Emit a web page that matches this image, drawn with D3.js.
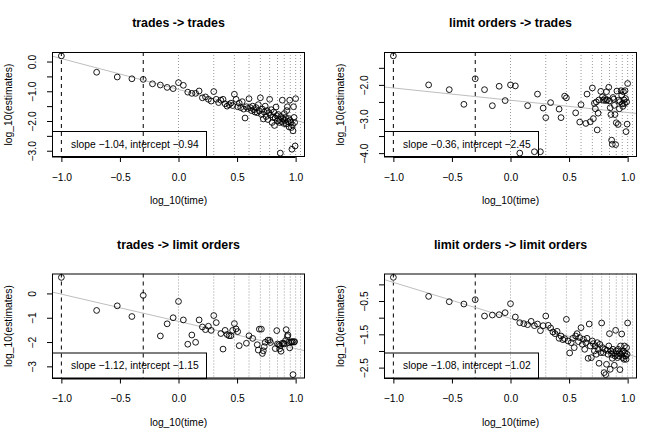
<!DOCTYPE html>
<html><head><meta charset="utf-8">
<script src="https://cdn.jsdelivr.net/npm/d3@7"></script>
<style>
body{margin:0;background:#fff}
svg{display:block}
text{font-family:"Liberation Sans",Arial,Helvetica,sans-serif;fill:#000}
</style>
</head><body>
<svg id="chart" width="664" height="443"></svg>
<script>
// ---- data ----
const times = [0.1,0.2,0.3,0.4,0.5,0.6,0.7,0.8,0.9,1.0,
  1.1,1.2,1.3,1.4,1.5,1.6,1.7,1.8,1.9,2.0,
  2.1,2.2,2.3,2.4,2.5,2.6,2.7,2.8,2.9,3.0,
  3.1,3.2,3.3,3.4,3.5,3.6,3.7,3.8,3.9,4.0,
  4.1,4.2,4.3,4.4,4.5,4.6,4.7,4.8,4.9,5.0,
  5.1,5.2,5.3,5.4,5.5,5.6,5.7,5.8,5.9,6.0,
  6.1,6.2,6.3,6.4,6.5,6.6,6.7,6.8,6.9,7.0,
  7.1,7.2,7.3,7.4,7.5,7.6,7.7,7.8,7.9,8.0,
  8.1,8.2,8.3,8.4,8.5,8.6,8.7,8.8,8.9,9.0,
  9.1,9.2,9.3,9.4,9.5,9.6,9.7,9.8,9.9,10.0];

const titles = ["trades -> trades","limit orders -> trades","trades -> limit orders","limit orders -> limit orders"];

const tradesToTrades = [0.19,-0.36,-0.52,-0.58,-0.60,-0.75,-0.79,-0.87,-0.91,-0.71,
  -0.80,-1.03,-1.07,-1.07,-0.99,-1.22,-1.19,-1.27,-1.33,-1.01,
  -1.27,-1.38,-1.30,-1.27,-1.42,-1.50,-1.45,-1.40,-1.48,-1.10,
  -1.27,-1.52,-1.40,-1.55,-1.35,-1.60,-1.90,-1.52,-1.58,-1.25,
  -1.55,-1.65,-1.50,-1.62,-1.70,-1.55,-1.72,-1.45,-1.66,-1.22,
  -1.78,-1.60,-1.93,-1.70,-1.50,-1.85,-1.65,-1.95,-1.72,-1.27,
  -1.80,-1.62,-2.05,-1.88,-1.70,-2.15,-1.90,-1.53,-1.82,-2.00,
  -1.78,-1.95,-2.05,-3.08,-1.85,-2.02,-1.30,-1.92,-2.08,-1.75,
  -1.98,-1.88,-2.10,-1.65,-1.52,-2.02,-1.92,-2.20,-1.30,-1.98,
  -2.05,-2.22,-2.95,-2.13,-2.33,-1.52,-1.88,-2.05,-2.84,-1.25];

const limitToTrades = [-1.15,-2.00,-2.14,-2.57,-1.82,-2.14,-2.61,-2.04,-2.46,-2.00,
  -2.03,-4.00,null,-2.61,null,-3.96,-2.27,-3.96,-2.68,-2.96,
  null,-2.52,null,null,null,-2.71,-2.96,null,-2.33,-2.38,
  null,null,null,null,null,-2.82,null,null,-3.09,-2.58,
  null,null,null,-3.13,-2.27,null,null,-3.08,null,-2.09,
  -2.99,-2.54,-2.70,-2.50,-3.32,-2.83,-2.44,null,-2.19,null,
  -2.35,-2.45,null,-2.40,-2.46,-2.20,-2.44,null,-2.07,-2.47,
  -2.67,-2.87,-3.62,-3.74,-2.37,-2.42,-2.60,-2.87,-3.75,-3.11,
  -2.18,null,-3.16,-2.45,-2.70,-2.49,null,-2.17,-2.30,-2.55,
  -2.63,-2.20,-2.44,-2.55,-2.17,-2.40,-3.37,-2.50,-3.15,-1.96];

const tradesToLimit = [0.66,-0.70,-0.51,-0.95,-0.08,null,-1.75,-1.25,-1.00,-0.33,
  -1.09,-2.09,-1.71,-2.01,-1.09,-1.38,-1.49,-1.35,-1.52,-0.91,
  -1.20,null,-1.65,-2.29,-1.52,-1.69,-1.74,-1.74,-1.52,-1.24,
  -1.46,-1.57,-2.15,null,null,null,null,-2.05,null,-1.74,
  null,null,-1.85,null,null,null,-2.11,-2.33,-1.47,null,
  -1.47,-2.47,-2.36,-2.19,-2.01,null,null,-1.92,null,-1.93,
  -2.02,null,null,null,null,null,-2.27,null,-1.53,-2.08,
  null,-2.11,-2.28,-2.15,-2.38,null,-2.05,null,-2.05,-2.08,
  null,-1.94,-1.49,null,-1.77,-1.71,-2.02,null,-2.24,null,
  -2.00,null,-1.98,-2.00,-3.34,null,-2.00,-1.98,null,null];

const limitToLimit = [0.21,-0.36,-0.52,-0.59,-0.46,-0.95,-0.92,-0.91,-0.85,-0.58,
  -0.98,-1.15,-1.18,-1.21,-1.11,-1.24,-1.19,-1.39,-1.24,-0.95,
  -1.23,-1.31,-1.43,-1.48,-1.41,-1.62,-1.55,-1.66,-1.63,-1.05,
  -1.70,-2.06,-1.75,-1.62,-1.90,-1.55,-1.48,-1.72,-1.60,-1.30,
  -1.80,-1.65,-1.95,-1.75,-1.62,-2.22,-1.19,-1.85,-2.20,-1.70,
  -1.78,-2.00,-1.85,-2.10,-1.75,-1.95,-2.37,-1.80,-2.05,-1.16,
  -1.90,-2.05,-2.65,-1.95,-2.71,-2.40,-1.98,-2.10,-1.85,-1.48,
  -2.55,-2.00,-2.10,-2.22,-1.95,-2.05,-2.43,-2.15,-1.38,-2.00,
  -2.10,-2.20,-1.95,-2.15,-2.05,-2.56,-1.85,-2.10,-1.49,-2.05,
  -2.20,-2.00,-2.25,-1.85,-2.05,-2.15,-2.25,-1.90,-2.10,-1.16];

const slopes = [-1.04,-0.36,-1.12,-1.08];
const intercepts = [-0.94,-2.45,-1.15,-1.02];

const xTicks = [-1.0,-0.5,0.0,0.5,1.0];
const yTicksP1 = [0.0,-0.5,-1.0,-1.5,-2.0,-2.5,-3.0];
const yLabelsP1 = [0.0,-1.0,-2.0,-3.0];
const yTicksP2 = [-1.5,-2.0,-2.5,-3.0,-3.5,-4.0];
const yLabelsP2 = [-2.0,-3.0,-4.0];
const yTicksP3 = [0,-1,-2,-3];
const yLabelsP3 = [0,-1,-2,-3];
const yTicksP4 = [0.0,-0.5,-1.0,-1.5,-2.0,-2.5];
const yLabelsP4 = [-0.5,-1.5,-2.5];

const dashedTimes = [0.1,0.5];
const dottedTimes = [1,2,3,4,5,6,7,8,9,10,11,12];

const xLabel = "log_10(time)";
const yLabel = "log_10(estimates)";

// ---- drawing ----
const panels = [
  {title:titles[0], values:tradesToTrades, yt:yTicksP1, yl:yLabelsP1, fmt:d3.format(".1f")},
  {title:titles[1], values:limitToTrades, yt:yTicksP2, yl:yLabelsP2, fmt:d3.format(".1f")},
  {title:titles[2], values:tradesToLimit, yt:yTicksP3, yl:yLabelsP3, fmt:d3.format("d")},
  {title:titles[3], values:limitToLimit, yt:yTicksP4, yl:yLabelsP4, fmt:d3.format(".1f")}
];

const svg = d3.select("#chart");
const W = 664, H = 443, figW = W/2, figH = H/2;
const mar = {l:52, r:27, t:52, b:64.5};
const fs = 10.3;

panels.forEach((p,i)=>{
  const ox = (i%2)*figW, oy = Math.floor(i/2)*figH;
  const x0 = ox+mar.l, x1 = ox+figW-mar.r, y0 = oy+mar.t, y1 = oy+figH-mar.b;
  const pts = times.map((t,j)=>({x:Math.log10(t), y:p.values[j]})).filter(d=>d.y!==null);
  const xe = d3.extent(times.map(t=>Math.log10(t)));
  const ye = d3.extent(pts, d=>d.y);
  const xp = (xe[1]-xe[0])*0.04, yp = (ye[1]-ye[0])*0.04;
  const x = d3.scaleLinear([xe[0]-xp, xe[1]+xp], [x0, x1]);
  const y = d3.scaleLinear([ye[0]-yp, ye[1]+yp], [y1, y0]);

  const g = svg.append("g");
  const cid = "clip"+i;
  g.append("clipPath").attr("id",cid).append("rect")
    .attr("x",x0).attr("y",y0).attr("width",x1-x0).attr("height",y1-y0);
  const plot = g.append("g").attr("clip-path",`url(#${cid})`);

  // dotted guides
  plot.selectAll("line.dot").data(dottedTimes).join("line")
    .attr("x1",d=>x(Math.log10(d))).attr("x2",d=>x(Math.log10(d)))
    .attr("y1",y0).attr("y2",y1)
    .attr("stroke","#9a9a9a").attr("stroke-width",1).attr("stroke-dasharray","1,2");
  // dashed guides
  plot.selectAll("line.dash").data(dashedTimes).join("line")
    .attr("x1",d=>x(Math.log10(d))).attr("x2",d=>x(Math.log10(d)))
    .attr("y1",y0).attr("y2",y1)
    .attr("stroke","#000").attr("stroke-width",1).attr("stroke-dasharray","4,4");
  // regression line
  const xd = x.domain();
  plot.append("line")
    .attr("x1",x(xd[0])).attr("y1",y(intercepts[i]+slopes[i]*xd[0]))
    .attr("x2",x(xd[1])).attr("y2",y(intercepts[i]+slopes[i]*xd[1]))
    .attr("stroke","#bebebe").attr("stroke-width",1);
  // points
  plot.selectAll("circle").data(pts).join("circle")
    .attr("cx",d=>x(d.x)).attr("cy",d=>y(d.y)).attr("r",2.9)
    .attr("fill","none").attr("stroke","#000").attr("stroke-width",0.9);

  // legend
  const lw = 154, lh = 26;
  g.append("rect").attr("x",x0+0.5).attr("y",y1-lh+0.5).attr("width",lw).attr("height",lh-0.5)
    .attr("fill","none").attr("stroke","#000").attr("stroke-width",1);
  g.append("text").attr("x",x0+19).attr("y",y1-lh/2+3.8)
    .style("font-size",fs+"px")
    .text(`slope ${d3.format(".2f")(slopes[i])}, intercept ${d3.format(".2f")(intercepts[i])}`);

  // box
  g.append("rect").attr("x",x0+0.5).attr("y",y0+0.5).attr("width",x1-x0-1).attr("height",y1-y0-1)
    .attr("fill","none").attr("stroke","#000").attr("stroke-width",1);

  // x axis
  const xa = g.append("g").attr("transform",`translate(0,${y1})`)
    .call(d3.axisBottom(x).tickValues(xTicks).tickSize(5).tickFormat(d3.format(".1f")));
  xa.select(".domain").remove();
  xa.append("line").attr("x1",x(xTicks[0])).attr("x2",x(xTicks[xTicks.length-1]))
    .attr("y1",0.5).attr("y2",0.5).attr("stroke","#000");
  xa.selectAll(".tick line").attr("stroke","#000");
  xa.selectAll(".tick text").attr("y",23.5).attr("dy",0)
    .style("font-size",fs+"px").style("font-family","Liberation Sans, Arial, sans-serif").attr("fill","#000");

  // y axis
  const ya = g.append("g").attr("transform",`translate(${x0},0)`)
    .call(d3.axisLeft(y).tickValues(p.yt).tickSize(5)
      .tickFormat(d=>p.yl.some(v=>Math.abs(v-d)<1e-9)?p.fmt(d):""));
  ya.select(".domain").remove();
  ya.append("line").attr("y1",y(d3.max(p.yt))).attr("y2",y(d3.min(p.yt)))
    .attr("x1",0.5).attr("x2",0.5).attr("stroke","#000");
  ya.selectAll(".tick line").attr("stroke","#000");
  ya.selectAll(".tick text").attr("transform","rotate(-90)")
    .attr("x",0).attr("y",-16).attr("dy",0).attr("text-anchor","middle")
    .style("font-size",fs+"px").style("font-family","Liberation Sans, Arial, sans-serif").attr("fill","#000");

  // labels
  g.append("text").attr("x",(x0+x1)/2).attr("y",oy+27).attr("text-anchor","middle")
    .style("font-size","12.4px").style("font-weight","bold").text(p.title);
  g.append("text").attr("x",(x0+x1)/2).attr("y",y1+47).attr("text-anchor","middle")
    .style("font-size",fs+"px").text(xLabel);
  g.append("text").attr("transform",`translate(${ox+11.5},${(y0+y1)/2}) rotate(-90)`)
    .attr("text-anchor","middle").style("font-size",fs+"px").text(yLabel);
});
</script>
</body></html>
